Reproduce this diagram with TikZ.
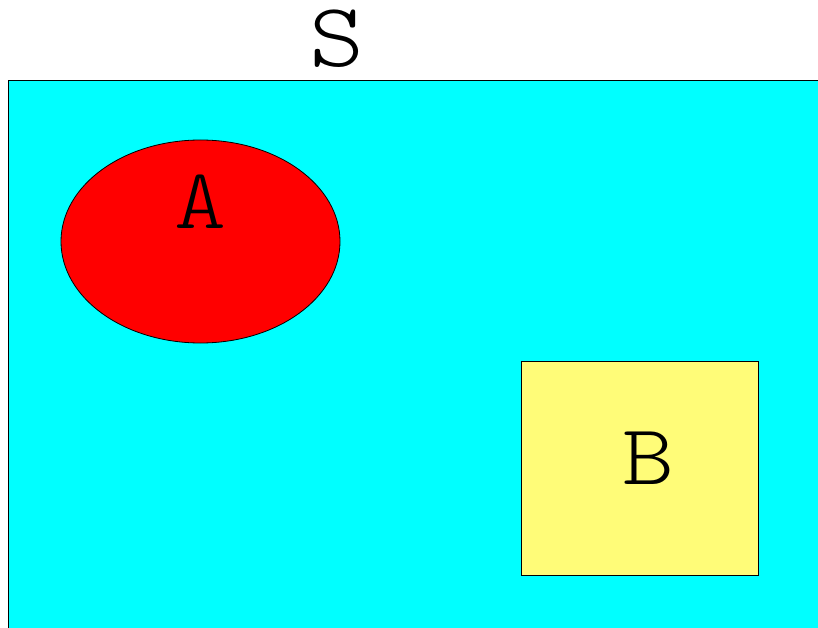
\documentclass[tikz,border=0pt]{standalone}
\usetikzlibrary{shapes.geometric}
\definecolor{setcyan}{RGB}{0,255,255}
\definecolor{setred}{RGB}{255,0,0}
\definecolor{setyellow}{RGB}{255,252,120}
\newcommand{\widename}[1]{\scalebox{1.15}[1]{#1}}
\tikzset{
  setname/.style={font=\ttfamily\fontseries{l}\fontsize{86}{86}\selectfont, inner sep=0pt},
}
\begin{document}
\begin{tikzpicture}[x=1pt, y=-1pt, line width=0.8pt]
            \useasboundingbox (0,0) rectangle (818,628);
            \fill[setcyan] (8,80) rectangle (818,628);
            \draw (8,628) -- (8,80) -- (818,80);
            \node[setname, font=\ttfamily\fontseries{l}\fontsize{91}{91}\selectfont] (nameS) at (337,39) {\widename{S}};
            \begin{scope}
                \node[draw, fill=setred, ellipse, inner sep=0pt, minimum width=279pt, minimum height=203pt] (setA) at (200.5,241.5) {};
                \node[setname] (nameA) at (200,202) {\widename{A}};
            \end{scope}
            \begin{scope}
                \node[draw, fill=setyellow, rectangle, inner sep=0pt, minimum width=237pt, minimum height=214pt] (setB) at (640.3,468.7) {};
                \node[setname] (nameB) at (648,458) {\widename{B}};
            \end{scope}
        \end{tikzpicture}
\end{document}
